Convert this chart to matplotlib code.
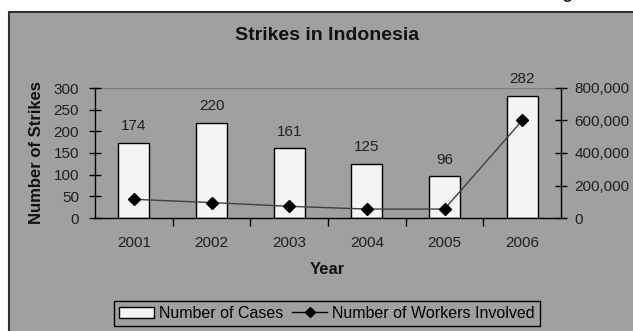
import numpy as np
import matplotlib.pyplot as plt
from matplotlib.patches import Rectangle, Patch
from matplotlib.lines import Line2D
from matplotlib.ticker import FuncFormatter

plt.rcParams['font.family'] = ['Liberation Sans', 'DejaVu Sans']

years = ['2001', '2002', '2003', '2004', '2005', '2006']
cases = [174, 220, 161, 125, 96, 282]
workers = [115000, 95000, 72000, 55000, 55000, 600000]

W, H = 633, 331
bg = '#a0a0a0'

fig = plt.figure(figsize=(W / 100, H / 100), dpi=100, facecolor='white')

# grey chart area with dark border, runs off the right and bottom edges
fig.patches.append(Rectangle((9 / W, -0.1), 1.2, 1.1 - 12 / H, transform=fig.transFigure,
                             facecolor=bg, edgecolor='#303030', lw=1.5, zorder=-5))
fig.text(548 / W, 1 + 0.5 / H, 'Figure 2', fontsize=12, fontweight='bold',
         ha='left', va='baseline', color='#202020')

ax = fig.add_axes([95 / W, 1 - 218 / H, (561 - 95) / W, (218 - 88) / H])
ax.set_facecolor(bg)
x = np.arange(len(years))

ax.bar(x, cases, width=0.4, color='#f4f4f4', edgecolor='black', lw=1, zorder=2)
for xi, v in zip(x, cases):
    ax.annotate(str(v), (xi, v), xytext=(0, 7), textcoords='offset points',
                ha='center', va='bottom', fontsize=11, color='#202020')

ax.axhline(300, color='#808080', lw=1, zorder=1)
ax.set_ylim(0, 300)
ax.set_xlim(-0.5, 5.5)
ax.set_yticks(range(0, 301, 50))
ax.set_xticks(x)
ax.set_xticklabels(years)
ax.set_xticks(np.arange(0.5, 5, 1), minor=True)
ax.tick_params(axis='x', which='major', length=0, pad=13, labelsize=11, colors='#202020')
ax.tick_params(axis='x', which='minor', length=6, width=1, direction='out', color='black')
ax.tick_params(axis='y', direction='inout', length=9, width=1, pad=7, labelsize=11,
               labelcolor='#202020')
for s in ['top', 'right']:
    ax.spines[s].set_visible(False)
for s in ['left', 'bottom']:
    ax.spines[s].set_color('black')
    ax.spines[s].set_linewidth(1)

ax2 = ax.twinx()
ax2.plot(x, workers, color='#404040', lw=1, marker='D', ms=6,
         markerfacecolor='black', markeredgecolor='black', zorder=3)
ax2.set_ylim(0, 800000)
ax2.set_yticks(range(0, 800001, 200000))
ax2.yaxis.set_major_formatter(FuncFormatter(lambda v, p: f'{int(v):,}'))
ax2.tick_params(axis='y', direction='inout', length=9, width=1, pad=5, labelsize=11,
                labelcolor='#202020')
for s in ['top', 'left', 'bottom']:
    ax2.spines[s].set_visible(False)
ax2.spines['right'].set_color('black')
ax2.spines['right'].set_linewidth(1)

fig.text(327 / W, 1 - 35 / H, 'Strikes in Indonesia', fontsize=14, fontweight='bold',
         ha='center', va='center', color='#111111')
fig.text(37 / W, 1 - 153 / H, 'Number of Strikes', fontsize=12, fontweight='bold',
         rotation=90, ha='center', va='center', color='#111111')
fig.text(327 / W, 1 - 270 / H, 'Year', fontsize=12, fontweight='bold',
         ha='center', va='center', color='#111111')

handles = [Patch(facecolor='#f4f4f4', edgecolor='black', lw=1),
           Line2D([], [], color='black', lw=1, marker='D', ms=5)]
leg = fig.legend(handles, ['Number of Cases', 'Number of Workers Involved'],
                 loc='upper center', bbox_to_anchor=(327 / W, 1 - 301 / H), ncol=2,
                 fontsize=11.5, frameon=True, fancybox=False, edgecolor='black',
                 facecolor=bg, framealpha=1, handlelength=2.2, handletextpad=0.3,
                 columnspacing=0.55, borderpad=0.3, borderaxespad=0)
leg.get_frame().set_linewidth(1)

fig.savefig('out.png', dpi=100, facecolor='white')
